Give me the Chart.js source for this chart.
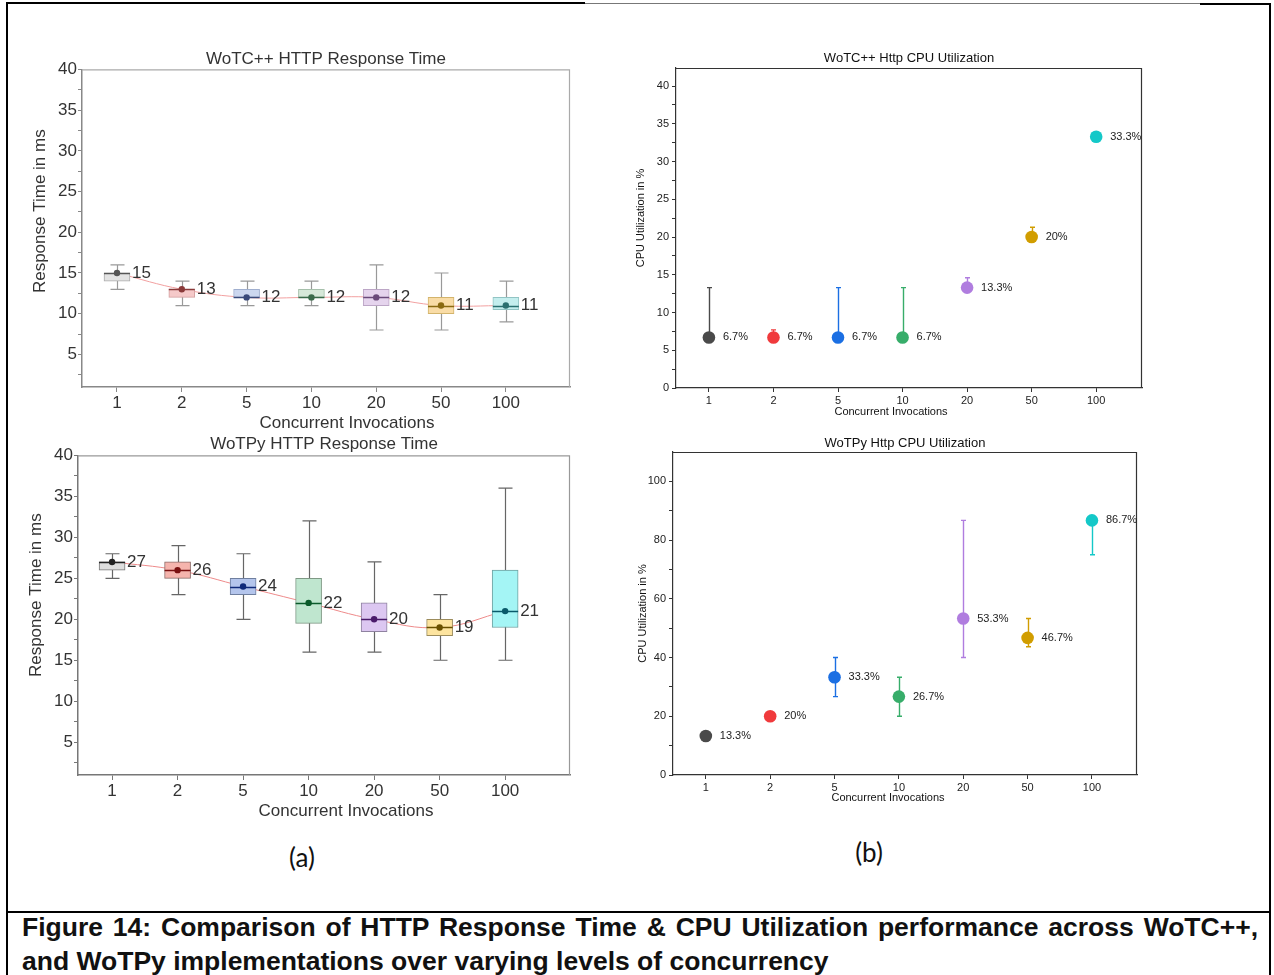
<!DOCTYPE html>
<html>
<head>
<meta charset="utf-8">
<script src="https://cdn.jsdelivr.net/npm/chart.js@4.4.1/dist/chart.umd.min.js"></script>
<style>
  body { margin: 0; background: #fff; }
  #page { position: relative; width: 1274px; height: 975px; overflow: hidden; background: #fff; }
  .plot { position: absolute; }
  .rule { position: absolute; background: #000; }
  .sub { position: absolute; font-family: Lato, "Open Sans", sans-serif; font-size: 26px; color: #111; transform: translate(-50%, -50%); }
  .cap { position: absolute; left: 22px; width: 1236px; font-family: "Liberation Sans", Arial, sans-serif; font-weight: bold; font-size: 26.5px; line-height: 30px; color: #111; white-space: nowrap; }
</style>
</head>
<body>
<div id="page">
  <div class="rule" style="left:6px;top:2px;width:579px;height:2px"></div>
  <div class="rule" style="left:585px;top:3px;width:615px;height:1px;background:#777"></div>
  <div class="rule" style="left:1200px;top:3px;width:71px;height:2px"></div>
  <div class="rule" style="left:6px;top:2px;width:2px;height:973px"></div>
  <div class="rule" style="left:1269px;top:3px;width:2px;height:972px"></div>
  <div class="rule" style="left:6px;top:911px;width:1265px;height:2px"></div>

  <div class="plot" style="left:10px;top:40px;width:575px;height:400px"><canvas id="rtCpp"></canvas></div>
  <div class="plot" style="left:10px;top:425px;width:575px;height:405px"><canvas id="rtPy"></canvas></div>
  <div class="plot" style="left:600px;top:40px;width:570px;height:390px"><canvas id="cpuCpp"></canvas></div>
  <div class="plot" style="left:600px;top:425px;width:570px;height:390px"><canvas id="cpuPy"></canvas></div>

  <div class="sub" style="left:302px;top:857px">(a)</div>
  <div class="sub" style="left:869px;top:852px">(b)</div>

  <div class="cap" style="top:912px;white-space:normal;text-align:justify;text-align-last:justify">Figure 14: Comparison of HTTP Response Time &amp; CPU Utilization performance across WoTC++,</div>
  <div class="cap" style="top:946px">and WoTPy implementations over varying levels of concurrency</div>
</div>

<script>
const FONT = '"Liberation Sans", Arial, sans-serif';
Chart.defaults.font.family = FONT;

// categories
const invocations = ['1', '2', '5', '10', '20', '50', '100'];

// WoTC++ HTTP response time in ms (box plot)
const cppRtMin = [13, 11, 11, 11, 8, 8, 9];
const cppRtQ1 = [14, 12, 12, 12, 11, 10, 10.5];
const cppRtQ3 = [15, 13, 13, 13, 13, 12, 12];
const cppRtMax = [16, 14, 14, 14, 16, 15, 14];
const cppRtMean = [15, 13, 12, 12, 12, 11, 11];

// WoTPy HTTP response time in ms (box plot)
const pyRtMin = [25, 23, 20, 16, 16, 15, 15];
const pyRtQ1 = [26, 25, 23, 19.5, 18.5, 18, 19];
const pyRtQ3 = [27, 27, 25, 25, 22, 20, 26];
const pyRtMax = [28, 29, 28, 32, 27, 23, 36];
const pyRtMean = [27, 26, 24, 22, 20, 19, 21];

// CPU utilization in % with error range
const cppCpu = [6.7, 6.7, 6.7, 6.7, 13.3, 20, 33.3];
const cppCpuLow = [6.7, 6.7, 6.7, 6.7, 13.3, 20, 33.3];
const cppCpuHigh = [13.3, 7.7, 13.3, 13.3, 14.6, 21.3, 33.3];
const pyCpu = [13.3, 20, 33.3, 26.7, 53.3, 46.7, 86.7];
const pyCpuLow = [13.3, 20, 26.7, 20, 40, 43.7, 75];
const pyCpuHigh = [13.3, 20, 40, 33.3, 86.7, 53.3, 86.7];

// tick values (minor ticks have no label)
const rtTicks = [2.5, 5, 7.5, 10, 12.5, 15, 17.5, 20, 22.5, 25, 27.5, 30, 32.5, 35, 37.5, 40];
const cppCpuTicks = [0, 2.5, 5, 7.5, 10, 12.5, 15, 17.5, 20, 22.5, 25, 27.5, 30, 32.5, 35, 37.5, 40];
const pyCpuTicks = [0, 10, 20, 30, 40, 50, 60, 70, 80, 90, 100];

const cpuColors = ['#4a4a4a', '#f03a3c', '#1b6fe3', '#37ad6a', '#b07ddf', '#d19d00', '#14c8c8'];

// axis titles drawn at fixed offsets from the plot area
const axisTitles = {
  id: 'axisTitles',
  afterDraw(chart, args, o) {
    const { ctx, chartArea: a } = chart;
    ctx.save();
    ctx.fillStyle = o.color;
    ctx.font = o.size + 'px ' + FONT;
    ctx.textAlign = 'center';
    ctx.textBaseline = 'middle';
    ctx.fillText(o.xText, (a.left + a.right) / 2 + o.xDx, a.bottom + o.xDy);
    ctx.translate(o.yX, (a.top + a.bottom) / 2 + o.yDy);
    ctx.rotate(-Math.PI / 2);
    ctx.fillText(o.yText, 0, 0);
    ctx.restore();
  }
};

function drawBoxChart(id, title, st, look) {
  const pos = invocations.map((c, i) => i);

  const boxParts = {
    id: 'boxParts',
    beforeDatasetsDraw(chart) {
      const { ctx, chartArea: a, scales: { x, y } } = chart;
      ctx.save();
      ctx.strokeStyle = look.frame;
      ctx.lineWidth = 1.2;
      ctx.beginPath();
      ctx.moveTo(a.left, a.top + 0.5);
      ctx.lineTo(a.right - 0.5, a.top + 0.5);
      ctx.lineTo(a.right - 0.5, a.bottom);
      ctx.stroke();
      // whiskers
      ctx.strokeStyle = look.whisker;
      ctx.lineWidth = 1.2;
      pos.forEach(i => {
        const px = Math.round(x.getPixelForValue(i)) + 0.5;
        const hi = y.getPixelForValue(st.max[i]);
        const lo = y.getPixelForValue(st.min[i]);
        ctx.beginPath();
        ctx.moveTo(px, hi); ctx.lineTo(px, lo);
        ctx.moveTo(px - 7, hi); ctx.lineTo(px + 7, hi);
        ctx.moveTo(px - 7, lo); ctx.lineTo(px + 7, lo);
        ctx.stroke();
      });
      ctx.restore();
    },
    afterDatasetDraw(chart, args) {
      if (args.index !== 1) return;
      const { ctx, scales: { x, y } } = chart;
      ctx.save();
      ctx.lineWidth = 1.5;
      pos.forEach(i => {
        const px = x.getPixelForValue(i);
        const py = Math.round(y.getPixelForValue(st.mean[i])) + 0.5;
        ctx.strokeStyle = look.dot[i];
        ctx.beginPath();
        ctx.moveTo(px - 13, py); ctx.lineTo(px + 13, py);
        ctx.stroke();
      });
      ctx.restore();
    },
    afterDraw(chart) {
      const { ctx, scales: { x, y } } = chart;
      ctx.save();
      ctx.fillStyle = '#333';
      ctx.font = '17px ' + FONT;
      ctx.textAlign = 'left';
      ctx.textBaseline = 'middle';
      pos.forEach(i => {
        ctx.fillText(String(st.mean[i]), x.getPixelForValue(i) + 15, y.getPixelForValue(st.mean[i]));
      });
      ctx.restore();
    }
  };

  return new Chart(document.getElementById(id), {
    type: 'bar',
    data: {
      datasets: [
        {
          type: 'line',
          data: pos.map(i => ({ x: i, y: st.mean[i] })),
          borderColor: look.line,
          borderWidth: 1,
          tension: 0.4,
          pointRadius: 0,
          order: 3
        },
        {
          type: 'bar',
          data: pos.map(i => ({ x: i, y: [st.q1[i], st.q3[i]] })),
          backgroundColor: look.fill,
          borderColor: look.edge,
          borderWidth: 1,
          borderSkipped: false,
          barThickness: 26,
          order: 2
        },
        {
          type: 'scatter',
          data: pos.map(i => ({ x: i, y: st.mean[i] })),
          pointRadius: 3.2,
          pointBackgroundColor: look.dot,
          pointBorderWidth: 0,
          order: 1
        }
      ]
    },
    options: {
      responsive: true,
      maintainAspectRatio: false,
      animation: false,
      layout: { padding: { left: 0, right: look.padRight, top: 0, bottom: 0 } },
      plugins: {
        legend: { display: false },
        tooltip: { enabled: false },
        title: {
          display: true, text: title, fullSize: false, color: '#333',
          font: { size: 17, weight: 'normal' },
          padding: { top: look.titleTop, bottom: look.titleBottom }
        },
        axisTitles: {
          color: '#333', size: 17,
          xText: 'Concurrent Invocations', xDx: look.xDx, xDy: 36,
          yText: 'Response Time in ms', yX: look.yX, yDy: look.yDy
        }
      },
      scales: {
        x: {
          type: 'linear', min: look.xMin, max: look.xMax, offset: false,
          afterBuildTicks: s => { s.ticks = pos.map(v => ({ value: v })); },
          afterFit: s => { s.height = look.xHeight; },
          ticks: { callback: v => invocations[v], autoSkip: false, maxRotation: 0, color: '#333', font: { size: 17 }, padding: 1 },
          grid: { drawOnChartArea: false, drawTicks: true, tickLength: 5, color: look.axis, offset: false },
          border: { display: true, color: look.axis, width: 1.5 }
        },
        y: {
          type: 'linear', min: 1, max: 40,
          afterBuildTicks: s => { s.ticks = rtTicks.map(v => ({ value: v })); },
          afterFit: s => { s.width = look.yWidth; },
          ticks: { callback: v => (v % 5 === 0 ? v : ''), autoSkip: false, color: '#333', font: { size: 17 }, padding: 1 },
          grid: { drawOnChartArea: false, drawTicks: true, tickLength: 4, color: look.axis },
          border: { display: true, color: look.axis, width: 1.5 }
        }
      }
    },
    plugins: [boxParts, axisTitles]
  });
}

function drawCpuChart(id, title, vals, low, high, yMax, tickList, labelStep, look) {
  const pos = invocations.map((c, i) => i);

  const errParts = {
    id: 'errParts',
    beforeDatasetsDraw(chart) {
      const { ctx, chartArea: a, scales: { x, y } } = chart;
      ctx.save();
      ctx.strokeStyle = '#333';
      ctx.lineWidth = 1.2;
      ctx.beginPath();
      ctx.moveTo(a.left, a.top + 0.5);
      ctx.lineTo(a.right - 0.5, a.top + 0.5);
      ctx.lineTo(a.right - 0.5, a.bottom);
      ctx.stroke();
      ctx.lineWidth = 1.4;
      pos.forEach(i => {
        const px = Math.round(x.getPixelForValue(i)) + 0.5;
        const hi = y.getPixelForValue(high[i]);
        const lo = y.getPixelForValue(low[i]);
        if (Math.abs(hi - lo) < 0.5) return;
        ctx.strokeStyle = cpuColors[i];
        ctx.beginPath();
        ctx.moveTo(px, hi); ctx.lineTo(px, lo);
        ctx.moveTo(px - 2.5, hi); ctx.lineTo(px + 2.5, hi);
        ctx.moveTo(px - 2.5, lo); ctx.lineTo(px + 2.5, lo);
        ctx.stroke();
      });
      ctx.restore();
    },
    afterDraw(chart) {
      const { ctx, scales: { x, y } } = chart;
      ctx.save();
      ctx.fillStyle = '#222';
      ctx.font = '11px ' + FONT;
      ctx.textAlign = 'left';
      ctx.textBaseline = 'middle';
      pos.forEach(i => {
        ctx.fillText(vals[i] + '%', x.getPixelForValue(i) + 14, y.getPixelForValue(vals[i]));
      });
      ctx.restore();
    }
  };

  return new Chart(document.getElementById(id), {
    type: 'scatter',
    data: {
      datasets: [{
        data: pos.map(i => ({ x: i, y: vals[i] })),
        pointRadius: 6.3,
        pointHoverRadius: 6.3,
        pointBackgroundColor: cpuColors,
        pointBorderWidth: 0
      }]
    },
    options: {
      responsive: true,
      maintainAspectRatio: false,
      animation: false,
      layout: { padding: { left: 0, right: look.padRight, top: 0, bottom: 0 } },
      plugins: {
        legend: { display: false },
        tooltip: { enabled: false },
        title: {
          display: true, text: title, fullSize: false, color: '#111',
          font: { size: 13, weight: 'normal' },
          padding: { top: look.titleTop, bottom: look.titleBottom }
        },
        axisTitles: {
          color: '#111', size: 11,
          xText: 'Concurrent Invocations', xDx: look.xDx, xDy: look.xDy,
          yText: 'CPU Utilization in %', yX: look.yX, yDy: look.yDy
        }
      },
      scales: {
        x: {
          type: 'linear', min: look.xMin, max: look.xMax,
          afterBuildTicks: s => { s.ticks = pos.map(v => ({ value: v })); },
          afterFit: s => { s.height = look.xHeight; },
          ticks: { callback: v => invocations[v], autoSkip: false, maxRotation: 0, color: '#222', font: { size: 11 }, padding: 2 },
          grid: { drawOnChartArea: false, drawTicks: true, tickLength: 4, color: '#333' },
          border: { display: true, color: '#333', width: 1.2 }
        },
        y: {
          type: 'linear', min: 0, max: yMax,
          afterBuildTicks: s => { s.ticks = tickList.map(v => ({ value: v })); },
          afterFit: s => { s.width = look.yWidth; },
          ticks: { callback: v => (v % labelStep === 0 ? v : ''), autoSkip: false, color: '#222', font: { size: 11 }, padding: 3 },
          grid: { drawOnChartArea: false, drawTicks: true, tickLength: 4, color: '#333' },
          border: { display: true, color: '#333', width: 1.2 }
        }
      }
    },
    plugins: [errParts, axisTitles]
  });
}

drawBoxChart('rtCpp', 'WoTC++ HTTP Response Time',
  { min: cppRtMin, q1: cppRtQ1, q3: cppRtQ3, max: cppRtMax, mean: cppRtMean },
  {
    fill: ['#e3e3e3', '#f5c9c9', '#ccd7ef', '#d6e8d9', '#e5d4ed', '#f9dca6', '#c4eeee'],
    edge: ['#aaaaaa', '#d3a0a0', '#a0afcf', '#a6c0ab', '#bca6c6', '#d3b46c', '#92c4c4'],
    dot: ['#555555', '#8a3a3a', '#3a4a7a', '#3a6a4a', '#6a4a7a', '#8a6a10', '#2a7070'],
    line: '#f2a0a0', whisker: '#999999', frame: '#aaaaaa', axis: '#888888',
    xMin: -0.54, xMax: 6.99, yWidth: 72, xHeight: 53, padRight: 15, titleTop: 9, titleBottom: 0,
    xDx: 21, yX: 30, yDy: -17
  });

drawBoxChart('rtPy', 'WoTPy HTTP Response Time',
  { min: pyRtMin, q1: pyRtQ1, q3: pyRtQ3, max: pyRtMax, mean: pyRtMean },
  {
    fill: ['#dedede', '#f5b4ad', '#b4c5ec', '#bfe6cf', '#dcc7f1', '#fde49f', '#a4f5f5'],
    edge: ['#777777', '#8c6a66', '#6f7f9f', '#7f9985', '#8f82a0', '#9c8c5c', '#6fa0a0'],
    dot: ['#222222', '#7a1010', '#102a7a', '#0a5a2a', '#4a1a6a', '#6a5000', '#0a5a6a'],
    line: '#ee8a8a', whisker: '#666666', frame: '#999999', axis: '#777777',
    xMin: -0.52, xMax: 6.99, yWidth: 68, xHeight: 55, padRight: 15, titleTop: 9, titleBottom: 1,
    xDx: 22, yX: 26, yDy: -20
  });

drawCpuChart('cpuCpp', 'WoTC++ Http CPU Utilization', cppCpu, cppCpuLow, cppCpuHigh, 42.4, cppCpuTicks, 5,
  { xMin: -0.51, xMax: 6.71, yWidth: 76, xHeight: 42, padRight: 28, titleTop: 11, titleBottom: 1.4,
    xDx: -18, xDy: 24, yX: 41, yDy: -10 });

drawCpuChart('cpuPy', 'WoTPy Http CPU Utilization', pyCpu, pyCpuLow, pyCpuHigh, 110, pyCpuTicks, 20,
  { xMin: -0.51, xMax: 6.70, yWidth: 73, xHeight: 40, padRight: 33, titleTop: 11, titleBottom: 0.4,
    xDx: -17, xDy: 23, yX: 43, yDy: 0 });
</script>
</body>
</html>
